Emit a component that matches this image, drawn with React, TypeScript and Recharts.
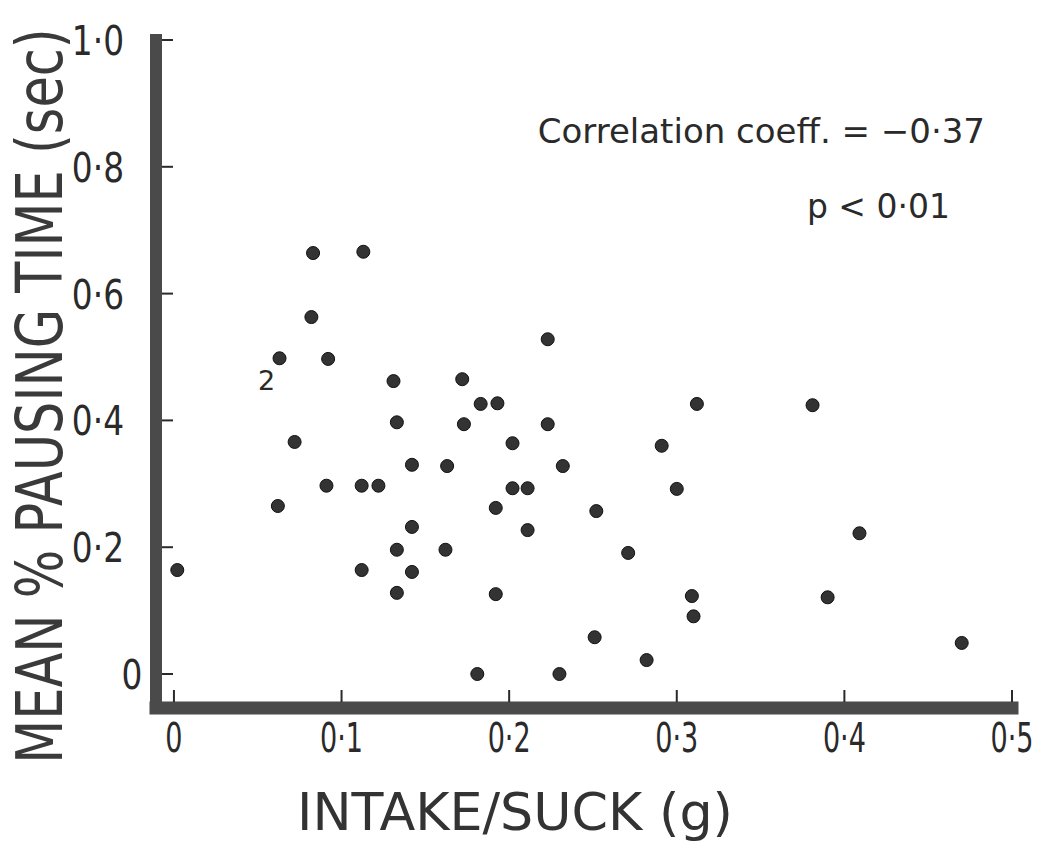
import { ScatterChart, Scatter, XAxis, YAxis, Label } from "recharts";

// intake per suck (g) and mean pausing time (sec), one entry per infant
const intake = [
  0.002, 0.062, 0.063, 0.072, 0.082, 0.083, 0.092, 0.091, 0.113, 0.112,
  0.112, 0.122, 0.131, 0.133, 0.133, 0.133, 0.142, 0.142, 0.142, 0.163,
  0.162, 0.172, 0.173, 0.183, 0.181, 0.193, 0.192, 0.192, 0.202, 0.202,
  0.211, 0.211, 0.223, 0.223, 0.232, 0.23, 0.252, 0.251, 0.271, 0.282,
  0.291, 0.3, 0.309, 0.31, 0.312, 0.381, 0.39, 0.409, 0.47,
];
const pausing = [
  0.164, 0.265, 0.498, 0.366, 0.563, 0.664, 0.497, 0.297, 0.666, 0.297,
  0.164, 0.297, 0.462, 0.397, 0.196, 0.128, 0.33, 0.232, 0.161, 0.328,
  0.196, 0.465, 0.394, 0.426, 0, 0.427, 0.262, 0.126, 0.364, 0.293,
  0.293, 0.227, 0.528, 0.394, 0.328, 0, 0.257, 0.058, 0.191, 0.022,
  0.36, 0.292, 0.123, 0.091, 0.426, 0.424, 0.121, 0.222, 0.049,
];
// index -> number of coincident observations
const counts: Record<number, number> = { 2: 2 };

const xTicks = [0, 0.1, 0.2, 0.3, 0.4, 0.5];
const yTicks = [0, 0.2, 0.4, 0.6, 0.8, 1.0];

const corrText = "Correlation coeff. = \u22120\u00b737";
const pText = "p < 0\u00b701";

const data = intake.map((x, i) => ({ x, y: pausing[i], n: counts[i] ?? 1 }));

const ink = "#2a2a2a";
const axisInk = "#4a4a4a";
const font = "'DejaVu Sans', sans-serif";

const fmt = (v: number) => (v === 0 ? "0" : v.toFixed(1).replace(".", "\u00b7"));

function XTick(props: any) {
  const { x, y, payload } = props;
  return (
    <g>
      <line x1={x} x2={x} y1={y - 6} y2={y - 18} stroke={ink} strokeWidth={2} />
      <text
        transform={`translate(${x},${y + 44}) scale(0.66,1)`}
        textAnchor="middle"
        fontSize={41}
        fontFamily={font}
        fill={ink}
      >
        {fmt(payload.value)}
      </text>
    </g>
  );
}

function YTick(props: any) {
  const { x, y, payload } = props;
  const zero = payload.value === 0;
  return (
    <g>
      <line x1={x + 6} x2={x + 17} y1={y} y2={y} stroke={ink} strokeWidth={2} />
      <text
        transform={`translate(${zero ? x - 24 : x - 32},${y + 15}) scale(0.8,1)`}
        textAnchor={zero ? "middle" : "end"}
        fontSize={41}
        fontFamily={font}
        fill={ink}
      >
        {fmt(payload.value)}
      </text>
    </g>
  );
}

function Dot(props: any) {
  const { cx, cy, payload } = props;
  return (
    <g>
      <circle cx={cx} cy={cy} r={6.5} fill="#333" stroke="#111" strokeWidth={1} />
      {payload.n > 1 && (
        <text x={cx - 13} y={cy + 32} textAnchor="middle" fontSize={27} fontFamily={font} fill={ink}>
          {payload.n}
        </text>
      )}
    </g>
  );
}

export default function App() {
  return (
    <div style={{ position: "absolute", left: 0, top: 0, background: "#fff" }}>
      <ScatterChart width={1044} height={848} margin={{ top: 40, right: 32, bottom: 40, left: 56 }}>
        <XAxis
          type="number"
          dataKey="x"
          domain={[-0.0107, 0.5]}
          allowDataOverflow
          ticks={xTicks}
          tick={(p: any) => <XTick {...p} />}
          tickLine={false}
          tickSize={0}
          tickMargin={0}
          height={100}
          axisLine={{ stroke: axisInk, strokeWidth: 13, strokeLinecap: "square" }}
        >
          <Label
            content={(p: any) => (
              <text
                x={p.viewBox.x + 359}
                y={p.viewBox.y + 122}
                textAnchor="middle"
                fontSize={52}
                fontFamily={font}
                fill="#333"
                textLength={436}
                lengthAdjust="spacingAndGlyphs"
              >
                INTAKE/SUCK (g)
              </text>
            )}
          />
        </XAxis>
        <YAxis
          type="number"
          dataKey="y"
          domain={[-0.0536, 1.0]}
          allowDataOverflow
          ticks={yTicks}
          tick={(p: any) => <YTick {...p} />}
          tickLine={false}
          tickSize={0}
          tickMargin={0}
          width={100}
          axisLine={{ stroke: axisInk, strokeWidth: 12, strokeLinecap: "square" }}
        >
          <Label
            content={() => (
              <text
                transform="translate(62, 396) rotate(-90) scale(1, 1.25)"
                textAnchor="middle"
                fontSize={51}
                fontFamily={font}
                fill="#3a3a3a"
              >
                MEAN % PAUSING TIME (sec)
              </text>
            )}
          />
        </YAxis>
        <Scatter data={data} shape={(p: any) => <Dot {...p} />} isAnimationActive={false} />
        <text x={985} y={143} textAnchor="end" fontSize={34} fontFamily={font} fill={ink}>
          {corrText}
        </text>
        <text x={950} y={218} textAnchor="end" fontSize={33} fontFamily={font} fill={ink}>
          {pText}
        </text>
      </ScatterChart>
    </div>
  );
}
